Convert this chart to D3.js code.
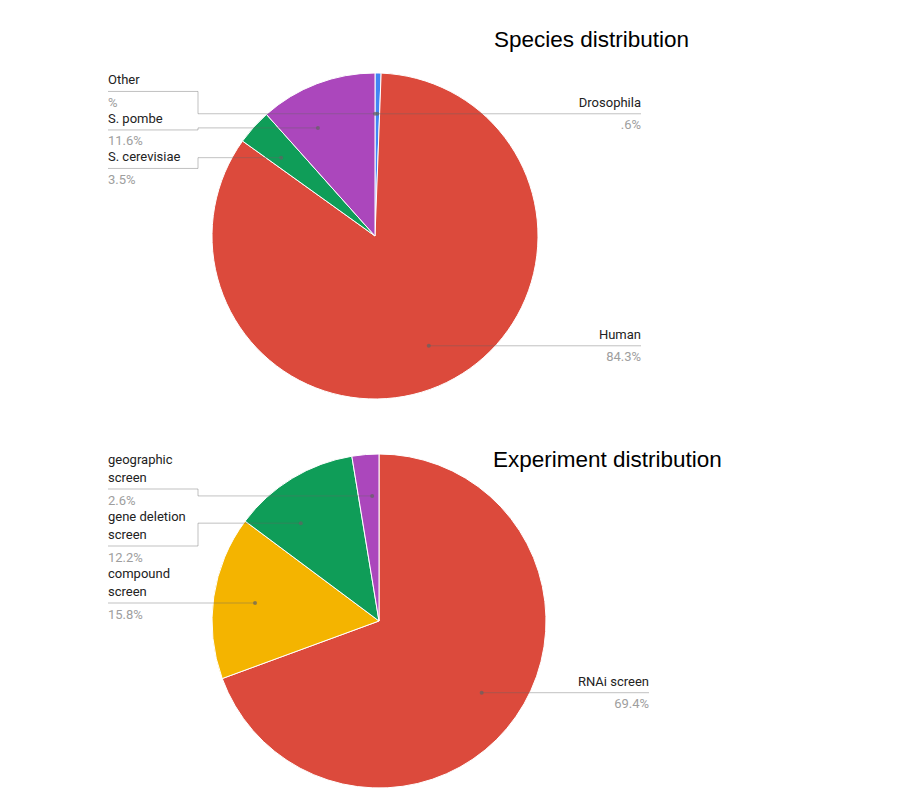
<!DOCTYPE html>
<html><head><meta charset="utf-8">
<script src="https://cdn.jsdelivr.net/npm/d3@7"></script>
<style>body{margin:0;background:#fff} svg{display:block}</style>
</head><body>
<svg id="c" width="907" height="809"></svg>
<script>
// ---- data ----
const speciesTitle = "Species distribution";
const speciesCategories = ["Drosophila", "Human", "S. cerevisiae", "S. pombe", "Other"];
const speciesValues = [0.6, 84.3, 3.5, 11.6, 0];
const speciesColors = ["#4285f4", "#dc4a3c", "#0f9d58", "#ab47bc", "#f4b400"];

const experimentTitle = "Experiment distribution";
const experimentCategories = ["RNAi screen", "compound screen", "gene deletion screen", "geographic screen"];
const experimentValues = [69.4, 15.8, 12.2, 2.6];
const experimentColors = ["#dc4a3c", "#f4b400", "#0f9d58", "#ab47bc"];

// "#.#%" style percent formatting (as in the source chart)
function fmtPct(p) {
  let s = p.toFixed(1);
  if (s.startsWith("0")) s = s.slice(1);
  if (s.endsWith(".0")) s = s.slice(0, -2);
  return s + "%";
}

const svg = d3.select("#c");
const LABEL_FONT = "Roboto, 'Liberation Sans', Arial, sans-serif";

// text measuring helper
const meas = svg.append("text").attr("font-family", LABEL_FONT).attr("font-size", 13).attr("visibility", "hidden");
function tw(s) { meas.text(s); return meas.node().getComputedTextLength(); }
function wrap(s, maxW) {
  const words = s.split(" "); const lines = []; let cur = "";
  for (const w of words) {
    const t = cur ? cur + " " + w : w;
    if (cur && tw(t) > maxW) { lines.push(cur); cur = w; } else cur = t;
  }
  if (cur) lines.push(cur);
  return lines;
}

function layoutSide(items, lo, hi) {
  let clusters = [];
  for (const it of items) {
    clusters.push({ items: [it], offs: [0], p: it.ideal });
    while (clusters.length > 1) {
      const B = clusters[clusters.length - 1], A = clusters[clusters.length - 2];
      const lastA = A.items[A.items.length - 1];
      const endA = A.p + A.offs[A.offs.length - 1] + lastA.b;
      const startB = B.p - B.items[0].a;
      if (endA <= startB) break;
      const base = A.offs[A.offs.length - 1] + lastA.b + B.items[0].a;
      const offs = A.offs.concat(B.offs.map(o => o + base));
      const its = A.items.concat(B.items);
      const p = d3.mean(its, (d, k) => d.ideal - offs[k]);
      clusters.splice(-2, 2, { items: its, offs, p });
    }
  }
  clusters.forEach(c => c.items.forEach((d, k) => d.u = c.p + c.offs[k]));
  for (let i = 0; i < items.length; i++) {
    const minU = i === 0 ? lo + items[0].a : items[i - 1].u + items[i - 1].b + items[i].a;
    if (items[i].u < minU) items[i].u = minU;
  }
  for (let i = items.length - 1; i >= 0; i--) {
    const maxU = i === items.length - 1 ? hi - items[i].b : items[i + 1].u - items[i + 1].a - items[i].b;
    if (items[i].u > maxU) items[i].u = maxU;
  }
}

function drawPie(cfg) {
  const { cx, cy, R, title, titleX, titleY, cats, vals, cols } = cfg;
  const g = svg.append("g");
  const data = cats.map((c, i) => ({ name: c, value: vals[i], color: cols[i] }));
  const total = d3.sum(vals);
  const arcs = d3.pie().sort(null).value(d => d.value).startAngle(0).endAngle(2 * Math.PI)(data);
  const arc = d3.arc().innerRadius(0).outerRadius(R);

  g.append("g").attr("transform", `translate(${cx},${cy})`)
    .selectAll("path").data(arcs.filter(a => a.data.value > 0)).join("path")
    .attr("d", arc).attr("fill", d => d.data.color)
    .attr("stroke", "#fff").attr("stroke-width", 1);

  g.append("text").attr("x", titleX).attr("y", titleY)
    .attr("font-family", "'Liberation Sans', Helvetica, Arial, sans-serif")
    .attr("font-size", 22.5).attr("fill", "#000").text(title);

  const rLab = 0.75 * R;
  const colLeft = cx - R - 104, elbowLeft = cx - R - 14;
  const colRight = cx + R + 103, elbowRight = cx + R + 14;
  const LH = 18.5;
  const items = arcs.map(a => {
    const mid = (a.startAngle + a.endAngle) / 2;
    const left = mid >= Math.PI;
    const lines = wrap(a.data.name, 92);
    return {
      arc: a, mid, left, lines,
      pct: fmtPct(a.data.value / total * 100),
      ideal: cy - rLab * Math.cos(mid),
      a: 19.5 + (lines.length - 1) * LH,
      b: 19
    };
  });
  const lo = cy - R - 3, hi = cy + R + 3;
  const L = items.filter(d => d.left).sort((x, y) => x.ideal - y.ideal);
  const Rt = items.filter(d => !d.left).sort((x, y) => x.ideal - y.ideal);
  layoutSide(L, lo, hi);
  layoutSide(Rt, lo, hi);

  const lab = g.append("g");
  items.forEach(d => {
    const s = d.arc.startAngle, e = d.arc.endAngle, span = e - s;
    let c = Math.max(-1, Math.min(1, (cy - d.u) / rLab));
    let th = d.left ? 2 * Math.PI - Math.acos(c) : Math.acos(c);
    const lo2 = s + span / 3, hi2 = e - span / 3;
    th = span === 0 ? s : Math.max(lo2, Math.min(hi2, th));
    const dx = cx + rLab * Math.sin(th), dy = cy - rLab * Math.cos(th);
    const path = d.left
      ? `M${dx},${dy}H${elbowLeft}V${d.u}H${colLeft}`
      : `M${dx},${dy}H${elbowRight}V${d.u}H${colRight}`;
    lab.append("path").attr("d", path).attr("fill", "none")
      .attr("stroke", "#636363").attr("stroke-opacity", 0.4).attr("stroke-width", 1);
    lab.append("circle").attr("cx", dx).attr("cy", dy).attr("r", 2)
      .attr("fill", "#636363").attr("fill-opacity", 0.7);
    const tx = d.left ? colLeft : colRight;
    const anchor = d.left ? "start" : "end";
    const n = d.lines.length;
    d.lines.forEach((ln, k) => {
      lab.append("text").attr("x", tx).attr("y", d.u - 7 - (n - 1 - k) * LH)
        .attr("text-anchor", anchor).attr("font-family", LABEL_FONT).attr("font-size", 13)
        .attr("fill", "#222").text(ln);
    });
    lab.append("text").attr("x", tx).attr("y", d.u + 15.5)
      .attr("text-anchor", anchor).attr("font-family", LABEL_FONT).attr("font-size", 13)
      .attr("fill", "#9e9e9e").text(d.pct);
  });
}

drawPie({ cx: 375, cy: 236, R: 163, title: speciesTitle, titleX: 494, titleY: 46.5,
  cats: speciesCategories, vals: speciesValues, cols: speciesColors });
drawPie({ cx: 379, cy: 621, R: 167, title: experimentTitle, titleX: 493, titleY: 466.5,
  cats: experimentCategories, vals: experimentValues, cols: experimentColors });
meas.remove();
</script>
</body></html>
